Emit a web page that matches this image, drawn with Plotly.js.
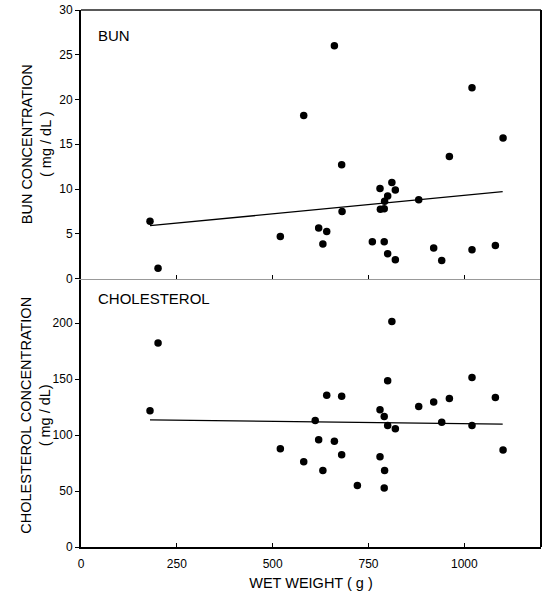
<!DOCTYPE html>
<html>
<head>
<meta charset="utf-8">
<script src="https://cdn.plot.ly/plotly-3.0.1.min.js"></script>
<style>html,body{margin:0;padding:0;background:#fff;}#chart{width:543px;height:597px;}</style>
</head>
<body>
<div id="chart"></div>
<script>
// BUN panel (top)
var bunWeight = [180, 201, 520, 581, 620, 631, 641, 661, 680, 681, 760, 780, 781, 791, 791, 792, 800, 800, 811, 820, 820, 881, 920, 941, 961, 1020, 1020, 1081, 1101];
var bunValue  = [6.4, 1.15, 4.7, 18.2, 5.65, 3.85, 5.25, 26.0, 12.7, 7.5, 4.1, 10.05, 7.73, 7.8, 4.1, 8.62, 9.22, 2.77, 10.72, 9.9, 2.1, 8.81, 3.4, 2.02, 13.63, 21.3, 3.21, 3.7, 15.7];
var bunFitX = [180, 1100];
var bunFitY = [5.9, 9.7];

// Cholesterol panel (bottom)
var cholWeight = [180, 201, 520, 581, 611, 620, 631, 641, 661, 680, 680, 721, 780, 780, 791, 791, 792, 800, 800, 811, 820, 881, 920, 941, 961, 1020, 1020, 1081, 1101];
var cholValue  = [121.7, 182.4, 87.8, 76.2, 113, 95.8, 68.4, 135.7, 94.6, 134.8, 82.4, 55, 122.6, 80.6, 116.6, 52.7, 68.4, 148.5, 108.6, 201.5, 105.6, 125.6, 129.7, 111.6, 132.7, 151.4, 108.6, 133.6, 86.6];
var cholFitX = [180, 1100];
var cholFitY = [113.7, 109.8];

var xTicks = [0, 250, 500, 750, 1000];
var bunTicks = [0, 5, 10, 15, 20, 25, 30];
var cholTicks = [0, 50, 100, 150, 200];

var FONT = 'Liberation Sans, Arial, sans-serif';
var mk = {color: '#000', size: 7.5};

var traces = [
  {x: bunWeight, y: bunValue, xaxis: 'x2', yaxis: 'y2', type: 'scatter', mode: 'markers', marker: mk},
  {x: bunFitX, y: bunFitY, xaxis: 'x2', yaxis: 'y2', type: 'scatter', mode: 'lines', line: {color: '#000', width: 1.3}},
  {x: cholWeight, y: cholValue, xaxis: 'x', yaxis: 'y', type: 'scatter', mode: 'markers', marker: mk},
  {x: cholFitX, y: cholFitY, xaxis: 'x', yaxis: 'y', type: 'scatter', mode: 'lines', line: {color: '#000', width: 1.3}}
];

var tickFont = {family: FONT, size: 12, color: '#000'};
var titleFont = {family: FONT, size: 14.5, color: '#000'};
var layout = {
  width: 543, height: 597,
  margin: {l: 81, r: 2, t: 10, b: 50},
  paper_bgcolor: '#fff', plot_bgcolor: '#fff',
  showlegend: false,
  font: {family: FONT, color: '#000'},
  xaxis: {
    domain: [0, 1], anchor: 'y', range: [0, 1200],
    tickvals: xTicks, ticktext: xTicks.map(String),
    ticks: 'inside', ticklen: 4, tickwidth: 1, tickcolor: '#000',
    ticklabelstandoff: 5,
    showline: true, linecolor: '#000', linewidth: 2,
    showgrid: false, zeroline: false, tickfont: tickFont,
    title: {text: 'WET WEIGHT ( g )', font: titleFont, standoff: 7}
  },
  xaxis2: {
    domain: [0, 1], anchor: 'y2', range: [0, 1200], matches: 'x',
    tickvals: xTicks, showticklabels: false,
    ticks: 'inside', ticklen: 4, tickwidth: 1, tickcolor: '#000',
    showline: true, linecolor: '#999', linewidth: 1.5,
    showgrid: false, zeroline: false
  },
  yaxis: {
    domain: [0, 0.5], anchor: 'x', range: [0, 240],
    tickvals: cholTicks, ticktext: cholTicks.map(String),
    ticks: 'outside', ticklen: 4, tickwidth: 1, tickcolor: '#000',
    showline: true, linecolor: '#000', linewidth: 2,
    showgrid: false, zeroline: false, tickfont: tickFont
  },
  yaxis2: {
    domain: [0.5, 1], anchor: 'x2', range: [0, 30],
    tickvals: bunTicks, ticktext: bunTicks.map(String),
    ticks: 'outside', ticklen: 4, tickwidth: 1, tickcolor: '#000',
    showline: true, linecolor: '#000', linewidth: 2,
    showgrid: false, zeroline: false, tickfont: tickFont
  },
  shapes: [
    {type: 'line', xref: 'paper', yref: 'paper', x0: 0, x1: 1, y0: 1, y1: 1, line: {color: '#222', width: 1.5}},
    {type: 'line', xref: 'paper', yref: 'paper', x0: 1, x1: 1, y0: 0, y1: 1, line: {color: '#000', width: 2}}
  ],
  annotations: [
    {text: 'BUN', xref: 'paper', yref: 'paper', x: 0, y: 1, xanchor: 'left', yanchor: 'middle', xshift: 15, yshift: -25, showarrow: false, font: {family: FONT, size: 15, color: '#000'}},
    {text: 'CHOLESTEROL', xref: 'paper', yref: 'paper', x: 0, y: 0.5, xanchor: 'left', yanchor: 'middle', xshift: 15, yshift: -20, showarrow: false, font: {family: FONT, size: 15, color: '#000'}},
    {text: 'BUN CONCENTRATION<br>( mg / dL )', xref: 'paper', yref: 'paper', x: 0, y: 0.75, xanchor: 'center', yanchor: 'middle', xshift: -45, textangle: -90, showarrow: false, font: titleFont},
    {text: 'CHOLESTEROL CONCENTRATION<br>( mg / dL)', xref: 'paper', yref: 'paper', x: 0, y: 0.25, xanchor: 'center', yanchor: 'middle', xshift: -45, yshift: -3, textangle: -90, showarrow: false, font: titleFont}
  ]
};

Plotly.newPlot('chart', traces, layout, {displayModeBar: false, staticPlot: true});
</script>
</body>
</html>
